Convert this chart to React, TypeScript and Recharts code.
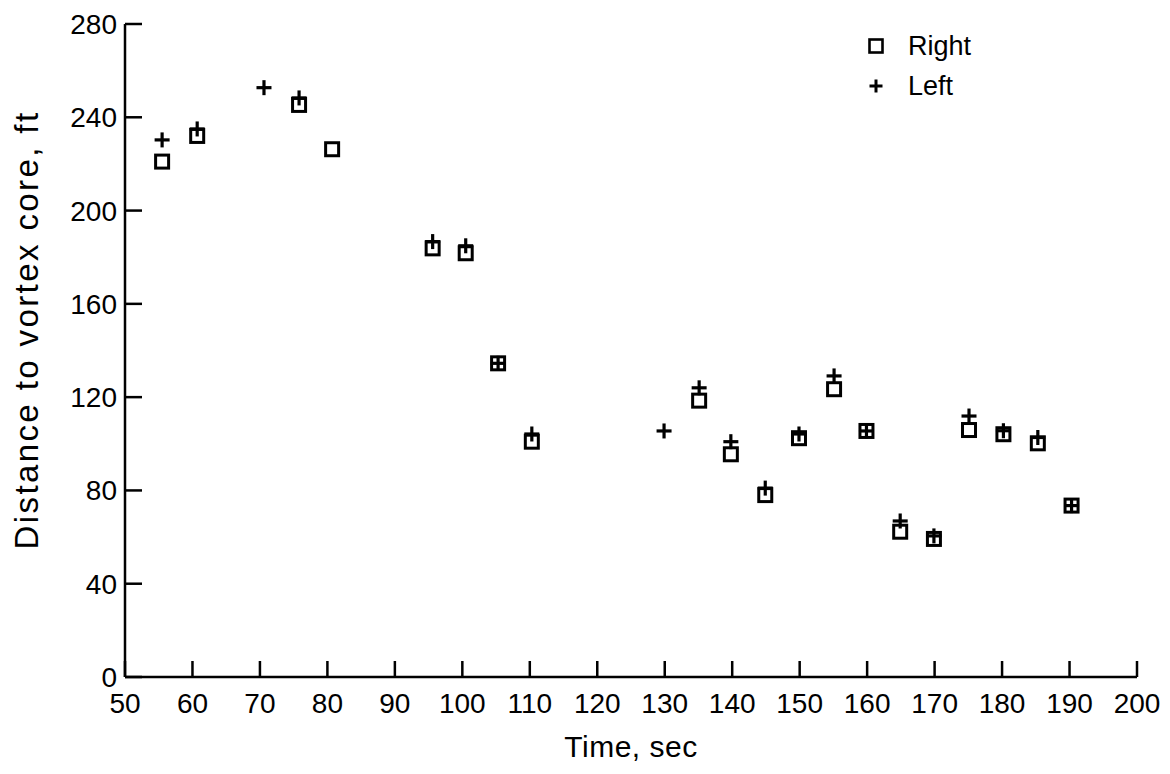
import React from 'react';
import { ScatterChart, Scatter, XAxis, YAxis, Legend, Label } from 'recharts';

const xTicks = [50, 60, 70, 80, 90, 100, 110, 120, 130, 140, 150, 160, 170, 180, 190, 200];
const yTicks = [0, 40, 80, 120, 160, 200, 240, 280];

const rightTime = [55.5, 60.7, 75.8, 80.7, 95.6, 100.5, 105.3, 110.3, 135.1, 139.8, 144.9, 149.9, 155.1, 159.9, 164.9, 169.9, 175.1, 180.2, 185.3, 190.3];
const rightDist = [221.0, 232.0, 245.3, 226.3, 183.8, 181.7, 134.5, 100.9, 118.5, 95.5, 78.0, 102.4, 123.4, 105.5, 62.3, 59.2, 105.9, 104.1, 100.2, 73.5];

const leftTime = [55.5, 60.7, 70.6, 75.8, 95.6, 100.5, 105.3, 110.3, 129.9, 135.1, 139.8, 144.9, 149.9, 155.1, 159.9, 164.9, 169.9, 175.1, 180.2, 185.3, 190.3];
const leftDist = [230.3, 235.0, 252.7, 248.3, 186.7, 184.9, 134.5, 104.2, 105.5, 124.0, 100.9, 81.0, 104.2, 129.1, 105.5, 66.9, 60.5, 111.9, 105.6, 102.7, 73.5];

const seriesOrder = ['Right', 'Left'];

const rightData = rightTime.map((t, i) => ({ t, d: rightDist[i] }));
const leftData = leftTime.map((t, i) => ({ t, d: leftDist[i] }));

const FONT = '"Liberation Sans", Arial, Helvetica, sans-serif';

const Square = (props: any) => {
  const { cx, cy } = props;
  if (cx == null || cy == null) return null;
  return <rect x={cx - 6.5} y={cy - 6.5} width={13} height={13} fill="none" stroke="#000" strokeWidth={3} />;
};

const Plus = (props: any) => {
  const { cx, cy } = props;
  if (cx == null || cy == null) return null;
  return (
    <g>
      <line x1={cx - 7.5} x2={cx + 7.5} y1={cy} y2={cy} stroke="#000" strokeWidth={3.2} />
      <line x1={cx} x2={cx} y1={cy - 7.5} y2={cy + 7.5} stroke="#000" strokeWidth={3.2} />
    </g>
  );
};

const LegendContent = (props: any) => {
  const payload = [...(props.payload || [])].sort(
    (a: any, b: any) => seriesOrder.indexOf(a.value) - seriesOrder.indexOf(b.value)
  );
  return (
    <div style={{ fontFamily: FONT, fontSize: 27, color: '#000' }}>
      {payload.map((entry: any, i: number) => (
        <div key={i} style={{ display: 'flex', alignItems: 'center', height: 40 }}>
          <svg width={24} height={24} style={{ display: 'block' }}>
            {entry.value === 'Right' ? (
              <rect x={5.5} y={5.5} width={13} height={13} fill="none" stroke="#000" strokeWidth={2.6} />
            ) : (
              <g>
                <line x1={5.5} x2={18.5} y1={12} y2={12} stroke="#000" strokeWidth={3} />
                <line x1={12} x2={12} y1={5.5} y2={18.5} stroke="#000" strokeWidth={3} />
              </g>
            )}
          </svg>
          <span style={{ marginLeft: 20, lineHeight: '40px' }}>{entry.value}</span>
        </div>
      ))}
    </div>
  );
};

export default function App() {
  return (
    <div style={{ width: 1154, height: 758 }}>
      <ScatterChart width={1154} height={758} margin={{ top: 16, right: 25, bottom: 0, left: 0 }}>
        <XAxis
          type="number"
          dataKey="t"
          domain={[50, 200]}
          ticks={xTicks}
          interval={0}
          height={89}
          axisLine={{ stroke: '#000', strokeWidth: 2.5 }}
          tickLine={{ stroke: '#000', strokeWidth: 2.5 }}
          tickSize={-16}
          tickMargin={32}
          tick={{ fill: '#000', fontSize: 28, fontFamily: FONT }}
          allowDataOverflow
        >
          <Label
            content={() => (
              <text x={623} y={749} textAnchor="middle" fontSize={30} letterSpacing={0.5} fontFamily={FONT} fill="#000">
                Time, sec
              </text>
            )}
          />
        </XAxis>
        <YAxis
          type="number"
          dataKey="d"
          domain={[0, 280]}
          ticks={yTicks}
          interval={0}
          width={117}
          axisLine={{ stroke: '#000', strokeWidth: 2.5 }}
          tickLine={{ stroke: '#000', strokeWidth: 2.5 }}
          tickSize={-17}
          tickMargin={25}
          tick={{ fill: '#000', fontSize: 28, fontFamily: FONT }}
          allowDataOverflow
        >
          <Label
            content={() => (
              <text
                x={18}
                y={322}
                transform="rotate(-90 18 322)"
                textAnchor="middle"
                dominantBaseline="central"
                fontSize={33}
                letterSpacing={2.4}
                fontFamily={FONT}
                fill="#000"
              >
                Distance to vortex core, ft
              </text>
            )}
          />
        </YAxis>
        <Legend
          layout="horizontal"
          verticalAlign="middle"
          align="center"
          content={<LegendContent />}
          wrapperStyle={{ position: 'absolute', left: 856, top: 18, width: 200, height: 80 }}
        />
        <Scatter name="Right" data={rightData} shape={<Square />} isAnimationActive={false} fill="#000" />
        <Scatter name="Left" data={leftData} shape={<Plus />} isAnimationActive={false} fill="#000" />
      </ScatterChart>
    </div>
  );
}
